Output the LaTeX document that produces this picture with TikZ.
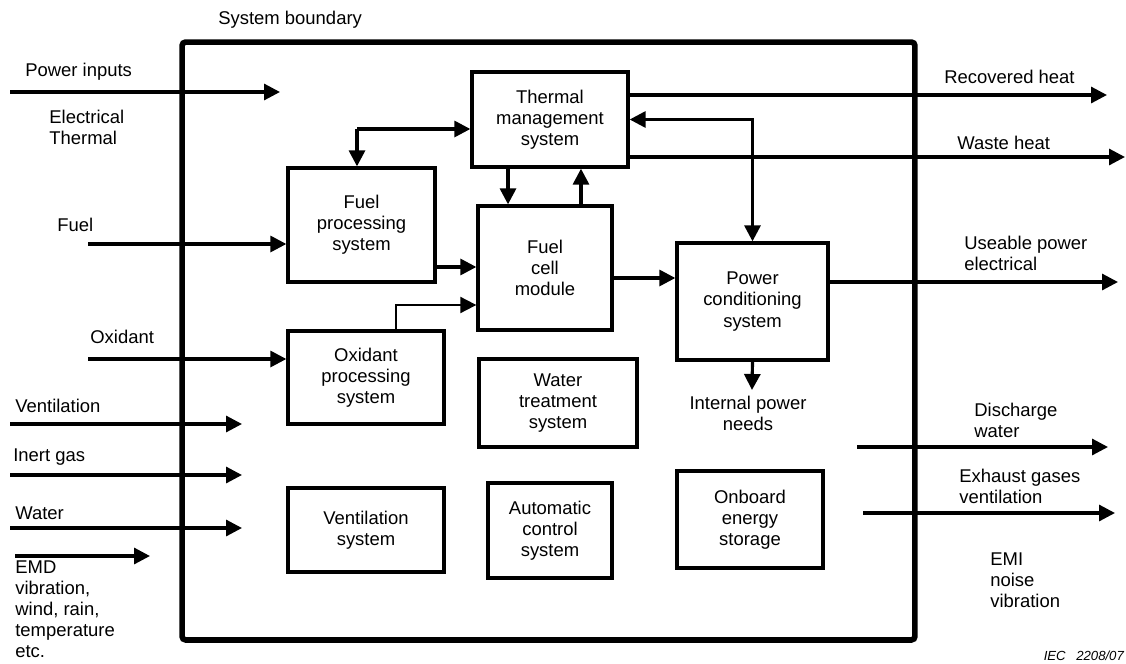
\documentclass[tikz,border=0pt]{standalone}
\usepackage{fontspec}
\setmainfont{Liberation Sans}
\usetikzlibrary{arrows.meta}

\begin{document}
\begin{tikzpicture}[x=0.02cm, y=-0.02cm, >={Triangle[length=0.32cm, width=0.32cm]},
	font=\fontsize{10.5}{12}\selectfont,
	box/.style={draw, line width=1.9pt, align=center, inner sep=1pt},
	flow/.style={line width=1.8pt, ->},
	txt/.style={anchor=west, align=left, inner sep=0pt}]
	\useasboundingbox (0,0) rectangle (1126,663);
	% system boundary
	\node[draw, line width=3.2pt, rounded corners=2pt, minimum width=14.66cm, minimum height=11.96cm] (SB) at (548.5,341) {};
	\node[txt] (SBL) at (218,20) {System boundary};
	% blocks
	\node[box, minimum width=3.12cm, minimum height=1.9cm] (TMS) at (550,119.5) {Thermal\\management\\system};
	\node[box, minimum width=2.94cm, minimum height=2.28cm] (FPS) at (361.5,225) {Fuel\\processing\\system};
	\node[box, minimum width=2.68cm, minimum height=2.48cm] (FCM) at (545,268) {Fuel\\cell\\module};
	\node[box, minimum width=3.02cm, minimum height=2.34cm] (PCS) at (752.5,301.5) {Power\\conditioning\\system};
	\node[box, minimum width=3.12cm, minimum height=1.86cm] (OPS) at (366,377.5) {Oxidant\\processing\\system};
	\node[box, minimum width=3.16cm, minimum height=1.76cm] (WTS) at (558,403) {Water\\treatment\\system};
	\node[box, minimum width=3.12cm, minimum height=1.68cm] (VS) at (366,530) {Ventilation\\system};
	\node[box, minimum width=2.48cm, minimum height=1.9cm] (ACS) at (550,530.5) {Automatic\\control\\system};
	\node[box, minimum width=2.92cm, minimum height=1.94cm] (OES) at (750,519.5) {Onboard\\energy\\storage};
	% inputs
	\node[txt] (PIL) at (25,72) {Power inputs};
	\node[txt] (ETL) at (49,127) {Electrical\\Thermal};
	\node[txt] (FL) at (57,225) {Fuel};
	\node[txt] (OL) at (90,337) {Oxidant};
	\node[txt] (VL) at (15,406) {Ventilation};
	\node[txt] (IL) at (13,457) {Inert gas};
	\node[txt] (WL) at (15,513) {Water};
	\node[txt] (EL) at (15,609) {EMD\\vibration,\\wind, rain,\\temperature\\etc.};
	% outputs
	\node[txt] (RHL) at (944,77) {Recovered heat};
	\node[txt] (WHL) at (957,143) {Waste heat};
	\node[txt] (UPL) at (964,253) {Useable power\\electrical};
	\node[align=center, inner sep=0pt] (IPL) at (748,413) {Internal power\\needs};
	\node[txt] (DWL) at (974,420) {Discharge\\water};
	\node[txt] (EGL) at (959,486) {Exhaust gases\\ventilation};
	\node[txt] (EMI) at (990,580) {EMI\\noise\\vibration};
	\node[anchor=south east, inner sep=1pt, font=\fontsize{7.5}{9}\selectfont\itshape] (IEC) at (1126,663) {IEC\hspace{6pt}2208/07};
	% free ends
	\coordinate (PIs) at (10,92); \coordinate (PIe) at (280,92);
	\coordinate (Fs) at (88,244);
	\coordinate (Os) at (88,359);
	\coordinate (Vs) at (10,424); \coordinate (Ve) at (242,424);
	\coordinate (Is) at (10,475); \coordinate (Ie) at (242,475);
	\coordinate (Ws) at (10,528); \coordinate (We) at (242,528);
	\coordinate (Es) at (15,556); \coordinate (Ee) at (150,556);
	\coordinate (SP) at (357,129);
	\coordinate (RH) at (1107,95);
	\coordinate (WH) at (1125,157);
	\coordinate (UP) at (1118,282);
	\coordinate (IP) at (752,390);
	\coordinate (DWs) at (857,447); \coordinate (DWe) at (1108,447);
	\coordinate (EGs) at (863,513); \coordinate (EGe) at (1115,513);
	% connectors
	\draw[flow] (PIs) -- (PIe);
	\draw[flow] (Fs) -- (Fs -| FPS.west);
	\draw[flow] (Os) -- (Os -| OPS.west);
	\draw[flow] (Vs) -- (Ve);
	\draw[flow] (Is) -- (Ie);
	\draw[flow] (Ws) -- (We);
	\draw[flow] (Es) -- (Ee);
	\draw[flow] (SP) -- (SP -| TMS.west);
	\draw[flow] (SP) -- (SP |- FPS.north);
	\draw[flow] ([xshift=-0.74cm]FCM.north |- TMS.south) -- ([xshift=-0.74cm]FCM.north);
	\draw[flow] ([xshift=0.72cm]FCM.north) -- ([xshift=0.72cm]FCM.north |- TMS.south);
	\draw[flow] ([yshift=-0.84cm]FPS.east) -- ([yshift=-0.84cm]FPS.east -| FCM.west);
	\draw[flow, line width=1.1pt] ([xshift=0.6cm]OPS.north) |- ([yshift=-0.74cm]FCM.west);
	\draw[flow] ([yshift=-0.2cm]FCM.east) -- ([yshift=-0.2cm]FCM.east -| PCS.west);
	\draw[flow, <->] (TMS.east) -| (PCS.north);
	\draw[flow] (RH -| TMS.east) -- (RH);
	\draw[flow] (WH -| TMS.east) -- (WH);
	\draw[flow] (UP -| PCS.east) -- (UP);
	\draw[flow] (PCS.south) -- (IP);
	\draw[flow] (DWs) -- (DWe);
	\draw[flow] (EGs) -- (EGe);
\end{tikzpicture}
\end{document}
